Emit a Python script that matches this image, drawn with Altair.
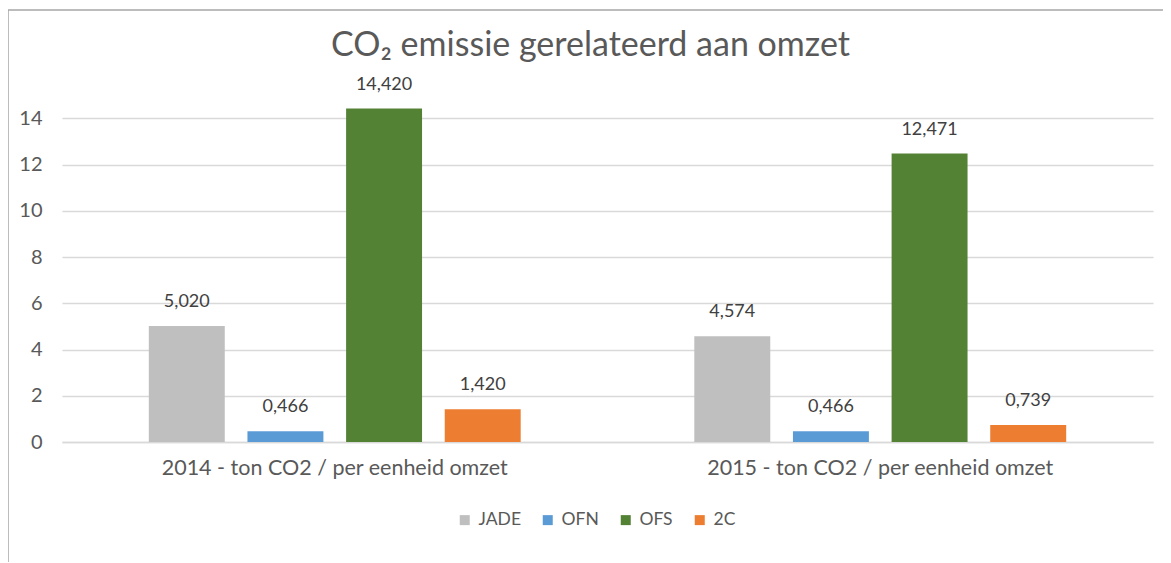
import altair as alt
import pandas as pd

groups = ["2014 - ton CO2 / per eenheid omzet", "2015 - ton CO2 / per eenheid omzet"]
series = ["JADE", "OFN", "OFS", "2C"]
values_2014 = [5.020, 0.466, 14.420, 1.420]
values_2015 = [4.574, 0.466, 12.471, 0.739]
colors = ["#BFBFBF", "#5B9BD5", "#548235", "#ED7D31"]
y_ticks = [0, 2, 4, 6, 8, 10, 12, 14]

rows = []
for g, vals in zip(groups, [values_2014, values_2015]):
    for s, v in zip(series, vals):
        rows.append({"groep": g, "reeks": s, "waarde": v})
df = pd.DataFrame(rows)

FONT = "Lato"
GRAY = "#595959"

base = alt.Chart(df).transform_calculate(
    label="replace(format(datum.waarde, '.3f'), '.', ',')"
)

x = alt.X("groep:N", sort=groups, title=None,
          scale=alt.Scale(paddingInner=0, paddingOuter=0),
          axis=alt.Axis(labelAngle=0, labelFont=FONT, labelFontSize=21.5, labelColor=GRAY,
                        labelLimit=0, labelPadding=15, ticks=False,
                        domainColor="#D9D9D9", domainWidth=1.5))
xo = alt.XOffset("reeks:N", sort=series,
                 scale=alt.Scale(paddingInner=0.23, paddingOuter=0.88))
y = alt.Y("waarde:Q", title=None,
          scale=alt.Scale(domain=[0, 16], nice=False),
          axis=alt.Axis(values=y_ticks, labelFont=FONT, labelFontSize=20, labelColor=GRAY,
                        labelPadding=20, ticks=False, domain=False, gridColor="#D9D9D9",
                        gridWidth=1.5))

bars = base.mark_bar().encode(
    x=x, xOffset=xo, y=y,
    color=alt.Color("reeks:N", sort=series,
                    scale=alt.Scale(domain=series, range=colors),
                    legend=alt.Legend(title=None, orient="none", direction="horizontal",
                                      legendX=394, legendY=439, symbolType="square",
                                      symbolSize=100, symbolStrokeWidth=0,
                                      labelFont=FONT, labelFontSize=17.5, labelColor=GRAY,
                                      columnPadding=18, labelOffset=5)),
)

text = base.mark_text(baseline="bottom", dy=-15, font=FONT, fontSize=18, color="#404040").encode(
    x=x, xOffset=xo, y="waarde:Q", text="label:N"
)

border = alt.Chart(pd.DataFrame({"k": [0]})).mark_rule(color="#A6A6A6", strokeWidth=1.5, clip=False).encode(
    x=alt.value(-54), x2=alt.value(1120), y=alt.value(-62)
)
border_left = alt.Chart(pd.DataFrame({"k": [0]})).mark_rule(color="#A6A6A6", strokeWidth=1.5, clip=False).encode(
    x=alt.value(-54), y=alt.value(-62), y2=alt.value(500)
)

chart = alt.layer(bars, text, border, border_left).properties(
    width=1091, height=370,
    title=alt.TitleParams("CO₂ emissie gerelateerd aan omzet", font=FONT, fontSize=34,
                          fontWeight="normal", color=GRAY, offset=14, dy=68, dx=-17,
                          anchor="middle"),
    autosize=alt.AutoSizeParams(type="none"),
    padding={"left": 54, "top": 64, "right": 10, "bottom": 120},
).configure_view(stroke=None)

chart.save("out.html", embed_options={"renderer": "svg", "actions": False})
